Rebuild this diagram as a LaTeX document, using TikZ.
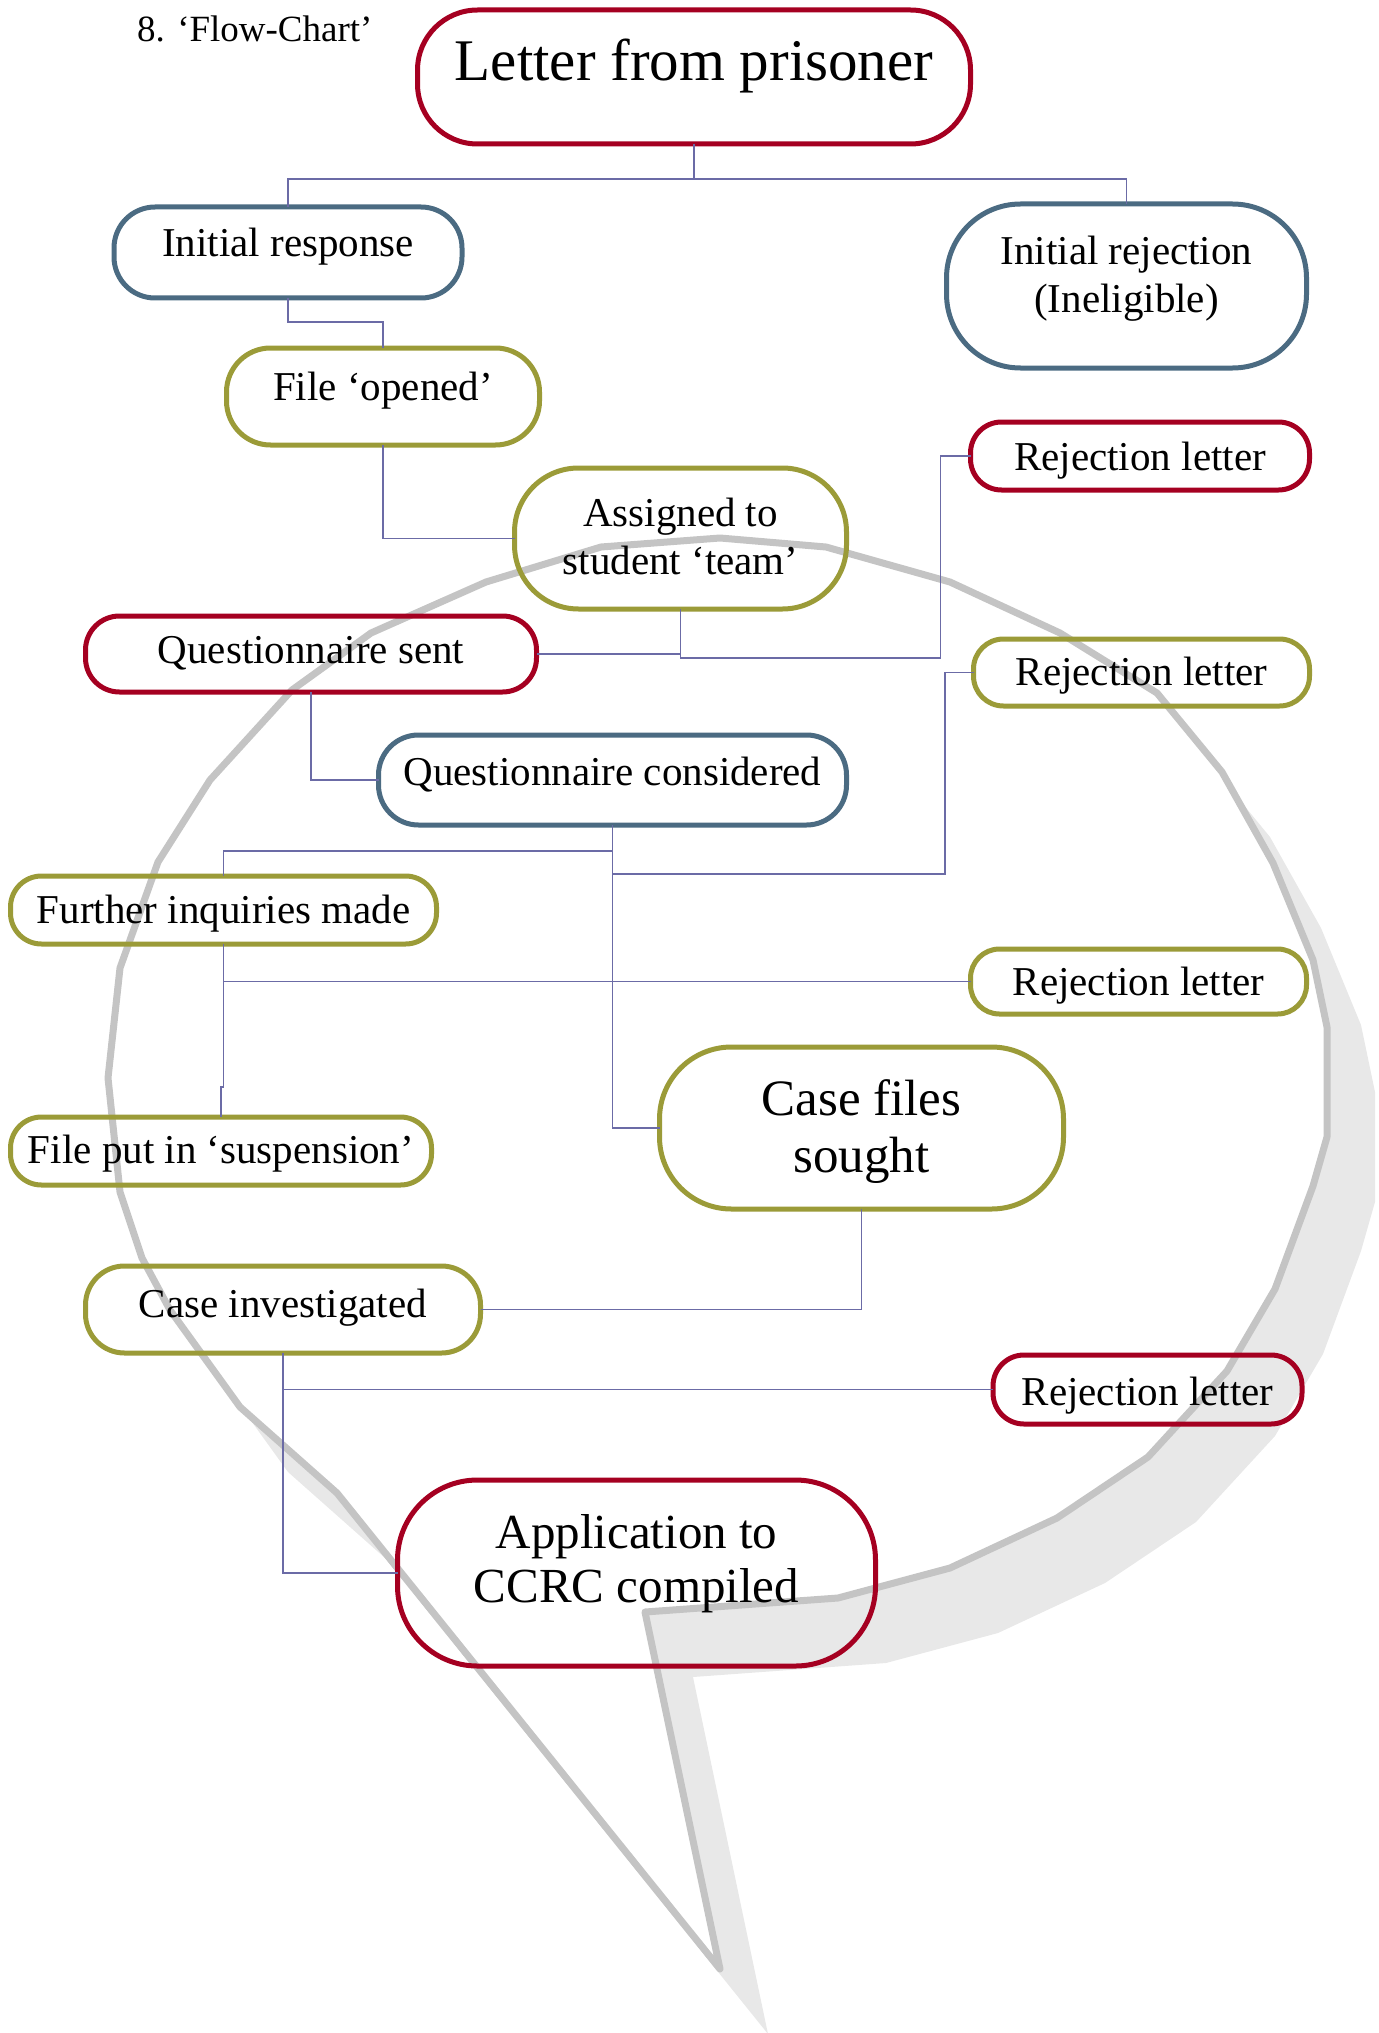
\documentclass[tikz,border=0pt]{standalone}
\usepackage{fontspec}
\setmainfont{Liberation Serif}
\usetikzlibrary{calc}
\definecolor{cred}{HTML}{A50021}
\definecolor{cblue}{HTML}{4B6B82}
\definecolor{colive}{HTML}{9B9B38}
\definecolor{cconn}{HTML}{6B6BA6}
\definecolor{cbub}{HTML}{C4C4C4}
\definecolor{cshad}{HTML}{E8E8E8}
\newcommand\tx[2]{\raisebox{#1pt}[0pt][0pt]{#2}}
\newcommand\two[2]{\begin{tabular}[t]{@{}c@{}}#1\\#2\end{tabular}}
\begin{document}
\begin{tikzpicture}[x=1pt,y=-1pt,
  bx/.style={draw, line width=5pt, inner sep=0pt, outer sep=0pt, rectangle,
    font=\fontsize{41}{48}\selectfont},
  conn/.style={draw=cconn, line width=1.8pt},
  bubshadow/.style={fill=cshad},
  bubble/.style={fill=white, draw=cbub, line width=7pt, line join=round},
]
\useasboundingbox (0,0) rectangle (1378,2033);
% speech bubble shadow
\path[bubshadow, shift={(48,65)}] (720,1969) -- (337,1493) -- (240,1407) -- (170,1310) -- (142,1258)
  -- (120,1192) -- (108,1078) -- (120,968) -- (158,862) -- (210,780) -- (292,690)
  -- (371,633) -- (486,582) -- (601,547) -- (720,538) -- (826,547) -- (950,582)
  -- (1060,633) -- (1157,693) -- (1222,772) -- (1273,863) -- (1313,960) -- (1327,1027)
  -- (1327,1137) -- (1313,1186) -- (1275,1289) -- (1227,1371) -- (1148,1457)
  -- (1057,1518) -- (950,1568) -- (838,1598) -- (645,1612) -- cycle;
% speech bubble
\path[bubble] (720,1969) -- (337,1493) -- (240,1407) -- (170,1310) -- (142,1258)
  -- (120,1192) -- (108,1078) -- (120,968) -- (158,862) -- (210,780) -- (292,690)
  -- (371,633) -- (486,582) -- (601,547) -- (720,538) -- (826,547) -- (950,582)
  -- (1060,633) -- (1157,693) -- (1222,772) -- (1273,863) -- (1313,960) -- (1327,1027)
  -- (1327,1137) -- (1313,1186) -- (1275,1289) -- (1227,1371) -- (1148,1457)
  -- (1057,1518) -- (950,1568) -- (838,1598) -- (645,1612) -- cycle;

% title
\node[anchor=base west, inner sep=0pt, font=\fontsize{37}{44}\selectfont] (title) at (137,42) {8. ‘Flow-Chart’};

% boxes
\node[bx, draw=cred, minimum width=553pt, minimum height=134pt, rounded corners=60pt] (letter) at (694,77)
  {\fontsize{59}{66}\selectfont\tx{-4}{Letter from prisoner}};
\node[bx, draw=cblue, minimum width=348pt, minimum height=91pt, rounded corners=41pt] (initresp) at (288,252.5)
  {\tx{-4.5}{Initial response}};
\node[bx, draw=cblue, minimum width=360pt, minimum height=164pt, rounded corners=74pt] (initrej) at (1126.5,286)
  {\tx{21}{\two{Initial rejection}{(Ineligible)}}};
\node[bx, draw=colive, minimum width=313pt, minimum height=97pt, rounded corners=44pt] (fileopen) at (383,396.5)
  {\tx{-3.5}{File ‘opened’}};
\node[bx, draw=colive, minimum width=332pt, minimum height=141pt, rounded corners=64pt] (assigned) at (680.5,538.5)
  {\tx{12.5}{\two{Assigned to}{student ‘team’}}};
\node[bx, draw=cred, minimum width=339pt, minimum height=68pt, rounded corners=31pt] (rej1) at (1140,456)
  {\tx{-14}{Rejection letter}};
\node[bx, draw=cred, minimum width=451pt, minimum height=76pt, rounded corners=34pt] (qsent) at (311,654)
  {\tx{-9}{Questionnaire sent}};
\node[bx, draw=colive, minimum width=336pt, minimum height=67pt, rounded corners=30pt] (rej2) at (1141.5,672.5)
  {\tx{-12.5}{Rejection letter}};
\node[bx, draw=cblue, minimum width=468pt, minimum height=90pt, rounded corners=40pt] (qcons) at (612.5,780)
  {\tx{-5}{Questionnaire considered}};
\node[bx, draw=colive, minimum width=426pt, minimum height=68pt, rounded corners=31pt] (further) at (223.5,910)
  {\tx{-13}{Further inquiries made}};
\node[bx, draw=colive, minimum width=336pt, minimum height=65pt, rounded corners=29pt] (rej3) at (1138.5,981.5)
  {\tx{-13.5}{Rejection letter}};
\node[bx, draw=colive, minimum width=421pt, minimum height=68pt, rounded corners=31pt] (susp) at (221,1151)
  {\tx{-12}{File put in ‘suspension’}};
\node[bx, draw=colive, minimum width=404pt, minimum height=162pt, rounded corners=72pt] (casefiles) at (861.5,1128)
  {\fontsize{51}{57}\selectfont\tx{13}{\two{Case files}{sought}}};
\node[bx, draw=colive, minimum width=395pt, minimum height=87pt, rounded corners=39pt] (caseinv) at (283,1309.5)
  {\tx{-7.5}{Case investigated}};
\node[bx, draw=cred, minimum width=309pt, minimum height=69pt, rounded corners=31pt] (rej4) at (1147.5,1389.5)
  {\tx{-15.5}{Rejection letter}};
\node[bx, draw=cred, minimum width=478pt, minimum height=186pt, rounded corners=80pt] (app) at (636.5,1573)
  {\fontsize{49}{54}\selectfont\tx{25}{\two{Application to}{CCRC compiled}}};

% connectors
\draw[conn] (letter.south) -- ++(0,35) -| (initresp.north);
\draw[conn] (letter.south) -- ++(0,35) -| (initrej.north);
\draw[conn] (initresp.south) -- ++(0,24) -| (fileopen.north);
\draw[conn] (fileopen.south) |- (assigned.west);
\draw[conn] (assigned.south) |- (qsent.east);
\draw[conn] (assigned.south) -- ++(0,49) -| ($(rej1.west)+(-30,0)$) -- (rej1.west);
\draw[conn] (qsent.south) |- (qcons.west);
\draw[conn] (qcons.south) -- ++(0,26) -| (further.north);
\draw[conn] (qcons.south) -- ++(0,49) -| ($(rej2.west)+(-28.5,0)$) -- (rej2.west);
\draw[conn] (qcons.south) |- (casefiles.west);
\draw[conn] (further.south) |- (rej3.west);
\draw[conn] (further.south) -- ++(0,143) -| (susp.north);
\draw[conn] (casefiles.south) |- (caseinv.east);
\draw[conn] (caseinv.south) |- (rej4.west);
\draw[conn] (caseinv.south) |- (app.west);
\end{tikzpicture}
\end{document}
